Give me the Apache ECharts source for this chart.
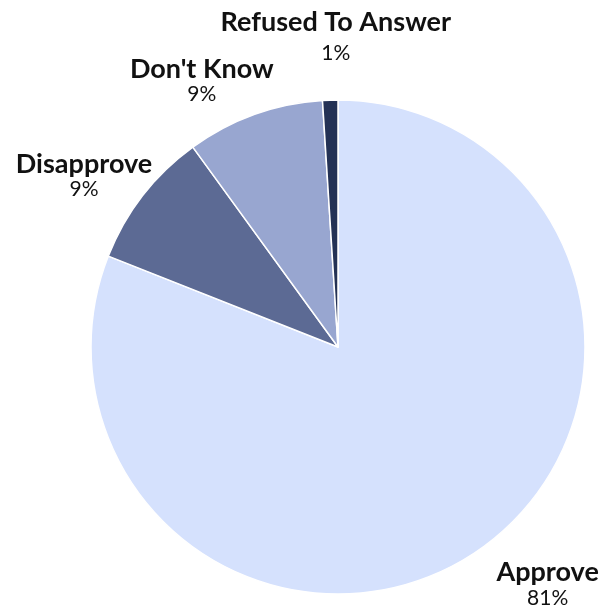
<!DOCTYPE html>
<html>
<head>
<meta charset="utf-8">
<script src="https://cdn.jsdelivr.net/npm/echarts@6/dist/echarts.min.js"></script>
<style>
html,body{margin:0;padding:0;background:#fff;}
#chart{width:604px;height:612px;}
</style>
</head>
<body>
<div id="chart"></div>
<script>
var categories = ["Approve", "Disapprove", "Don't Know", "Refused To Answer"];
var values = [81, 9, 9, 1];
var colors = ["#d5e1fd", "#5c6a94", "#98a6d0", "#243255"];

var CX = 338, CY = 347, R = 247;
// label placement tweaks per slice: [angle offset (deg), distance from center]
var labelTweaks = [[-7.2, 317], [-3.9, 306], [-7.3, 299], [1.4, 307]];

var total = values.reduce(function(a, b){ return a + b; }, 0);
var mids = [];
var acc = 0;
values.forEach(function(v){ mids.push((acc + v / 2) / total * 360); acc += v; });

var data = categories.map(function(c, i){
  var item = { name: c, value: values[i], itemStyle: { color: colors[i] } };
  if (i === 3) {
    item.label = { rich: { n: { padding: [0, 0, 12, 0] } } };
  }
  return item;
});

var chart = echarts.init(document.getElementById('chart'), null, { renderer: 'canvas' });
chart.setOption({
  animation: false,
  backgroundColor: '#ffffff',
  series: [{
    type: 'pie',
    center: [CX, CY],
    radius: R,
    startAngle: 90,
    clockwise: true,
    data: data,
    itemStyle: { borderColor: '#ffffff', borderWidth: 1.5 },
    labelLine: { show: false },
    label: {
      show: true,
      position: 'inside',
      overflow: 'none',
      formatter: function(p){ return '{n|' + p.name + '}\n{p|' + p.value + '%}'; },
      align: 'center',
      rich: {
        n: { fontFamily: 'Lato', fontWeight: 'bold', fontSize: 27, color: '#111111', lineHeight: 26, align: 'center' },
        p: { fontFamily: 'Lato', fontWeight: 'normal', fontSize: 21, color: '#111111', lineHeight: 24, align: 'center' }
      }
    },
    labelLayout: function(params){
      var i = params.dataIndex;
      var t = labelTweaks[i];
      var a = (mids[i] + t[0]) * Math.PI / 180;
      return {
        x: CX + t[1] * Math.sin(a),
        y: CY - t[1] * Math.cos(a),
        align: 'center',
        verticalAlign: 'middle'
      };
    }
  }]
});
</script>
</body>
</html>
